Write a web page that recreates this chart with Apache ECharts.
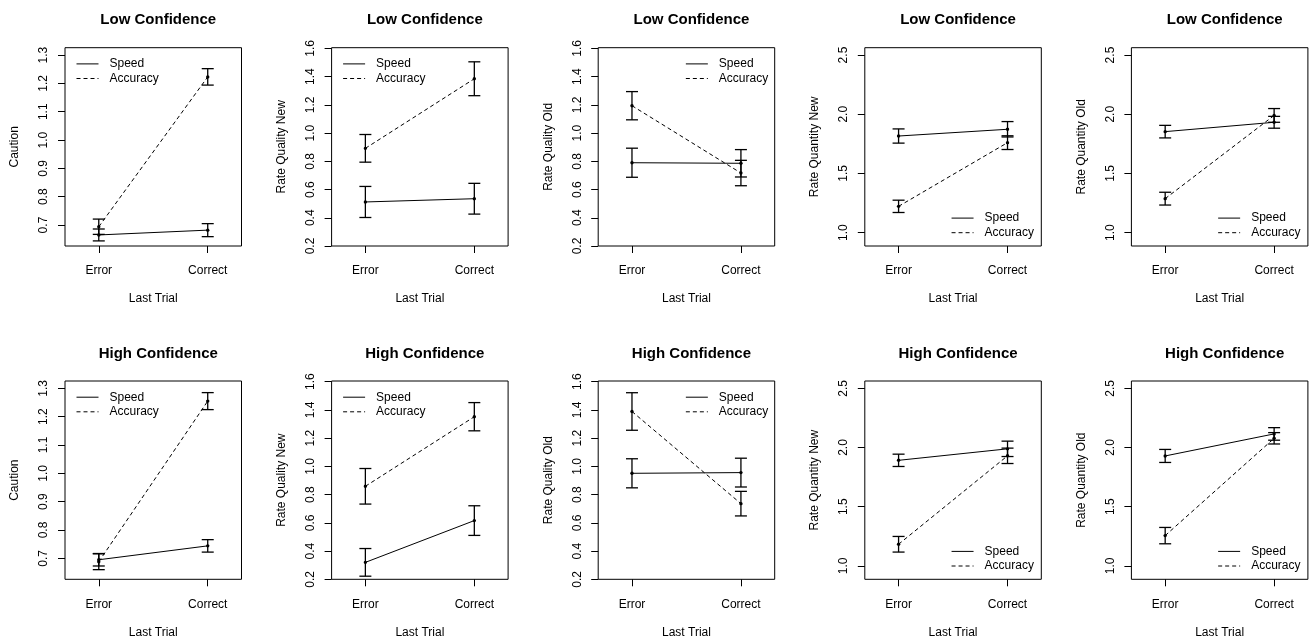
<!DOCTYPE html>
<html><head><meta charset="utf-8">
<script src="https://cdn.jsdelivr.net/npm/echarts@6/dist/echarts.min.js"></script>
<style>html,body{margin:0;padding:0;background:#fff}#c{width:1310px;height:641px}</style>
</head><body><div id="c"></div>
<script>
// ---------------- data ----------------
const categories = ['Error', 'Correct'];
const categoryX = [1, 2];
const seriesNames = ['Speed', 'Accuracy'];
const rowTitles = ['Low Confidence', 'High Confidence'];
const measures = ['Caution', 'Rate Quality New', 'Rate Quality Old', 'Rate Quantity New', 'Rate Quantity Old'];
const xTitle = 'Last Trial';

const cautionTicks = [0.7, 0.8, 0.9, 1.0, 1.1, 1.2, 1.3];
const qualityTicks = [0.2, 0.4, 0.6, 0.8, 1.0, 1.2, 1.4, 1.6];
const quantityTicks = [1.0, 1.5, 2.0, 2.5];

// means per measure: [Error, Correct]
const lowSpeedMean = [[0.665, 0.682], [0.512, 0.535], [0.790, 0.786], [1.816, 1.873], [1.853, 1.932]];
const lowSpeedSE   = [[0.021, 0.023], [0.110, 0.109], [0.103, 0.097], [0.060, 0.065], [0.053, 0.050]];
const lowAccMean   = [[0.694, 1.223], [0.892, 1.385], [1.194, 0.717], [1.222, 1.760], [1.287, 1.990]];
const lowAccSE     = [[0.027, 0.029], [0.098, 0.120], [0.100, 0.090], [0.052, 0.058], [0.054, 0.058]];

const highSpeedMean = [[0.695, 0.744], [0.320, 0.616], [0.951, 0.956], [1.892, 1.989], [1.929, 2.115]];
const highSpeedSE   = [[0.022, 0.022], [0.098, 0.105], [0.103, 0.102], [0.052, 0.065], [0.055, 0.053]];
const highAccMean   = [[0.688, 1.255], [0.859, 1.352], [1.389, 0.736], [1.183, 1.930], [1.256, 2.078]];
const highAccSE     = [[0.028, 0.030], [0.126, 0.100], [0.133, 0.087], [0.066, 0.065], [0.069, 0.048]];

// ---------------- layout / style ----------------
const FONT = '"Liberation Sans", Arial, Helvetica, sans-serif';
const tickSets = [cautionTicks, qualityTicks, qualityTicks, quantityTicks, quantityTicks];
const yMin = [0.626, 0.2, 0.2, 0.887, 0.887];
const yMax = [1.326, 1.605, 1.605, 2.562, 2.562];
const legendPos = ['tl', 'tl', 'tr', 'br', 'br'];
const boxLeft0 = 65, boxStep = 266.6, boxW = 176.5, boxH = 198.3;
const rowTop = [47.7, 381];

const rows = [
  {speedM: lowSpeedMean, speedS: lowSpeedSE, accM: lowAccMean, accS: lowAccSE},
  {speedM: highSpeedMean, speedS: highSpeedSE, accM: highAccMean, accS: highAccSE}
];

const grids = [], xAxes = [], yAxes = [], series = [], titles = [], legends = [];

function errRender(params, api) {
  const x = api.value(0), m = api.value(1), s = api.value(2);
  const pT = api.coord([x, m + s]), pB = api.coord([x, m - s]), pM = api.coord([x, m]);
  const cap = 6;
  const st = {stroke: '#000', lineWidth: 1.3, fill: null};
  return {type: 'group', children: [
    {type: 'line', shape: {x1: pT[0], y1: pT[1], x2: pB[0], y2: pB[1]}, style: st},
    {type: 'line', shape: {x1: pT[0] - cap, y1: pT[1], x2: pT[0] + cap, y2: pT[1]}, style: st},
    {type: 'line', shape: {x1: pB[0] - cap, y1: pB[1], x2: pB[0] + cap, y2: pB[1]}, style: st},
    {type: 'circle', shape: {cx: pM[0], cy: pM[1], r: 1.7}, style: {fill: '#000', stroke: null}}
  ]};
}

rows.forEach((row, r) => {
  measures.forEach((meas, c) => {
    const idx = r * 5 + c;
    const L = boxLeft0 + c * boxStep, T = rowTop[r];
    grids.push({left: L, top: T, width: boxW, height: boxH, show: true,
      borderColor: '#000', borderWidth: 1, backgroundColor: 'transparent', containLabel: false});
    xAxes.push({gridIndex: idx, type: 'value', min: 0.69, max: 2.31,
      axisLine: {show: false}, splitLine: {show: false},
      axisTick: {show: true, length: 7, inside: false, lineStyle: {color: '#000', width: 1}, customValues: categoryX},
      axisLabel: {customValues: categoryX, margin: 19, color: '#000', fontSize: 12, fontFamily: FONT,
        formatter: v => categories[categoryX.indexOf(v)]},
      name: xTitle, nameLocation: 'middle', nameGap: 47,
      nameTextStyle: {color: '#000', fontSize: 12, fontFamily: FONT}});
    const ticks = tickSets[c];
    yAxes.push({gridIndex: idx, type: 'value', min: yMin[c], max: yMax[c],
      axisLine: {show: false}, splitLine: {show: false},
      axisTick: {show: true, length: 7, inside: false, lineStyle: {color: '#000', width: 1}, customValues: ticks},
      axisLabel: {customValues: ticks, rotate: 90, margin: 15, color: '#000', fontSize: 12, fontFamily: FONT,
        formatter: v => Number(v).toFixed(1)},
      name: meas, nameLocation: 'middle', nameGap: 44,
      nameTextStyle: {color: '#000', fontSize: 12, fontFamily: FONT}});
    titles.push({text: rowTitles[r], left: L + boxW / 2, top: T - 40, textAlign: 'center',
      textStyle: {fontSize: 15, fontWeight: 'bold', color: '#000', fontFamily: FONT}});

    const sm = row.speedM[c], ss = row.speedS[c], am = row.accM[c], as = row.accS[c];
    series.push({type: 'line', name: seriesNames[0], xAxisIndex: idx, yAxisIndex: idx,
      data: categoryX.map((x, i) => [x, sm[i]]), symbol: 'none', silent: true, animation: false,
      itemStyle: {color: '#000'}, lineStyle: {color: '#000', width: 1, type: 'solid'}});
    series.push({type: 'line', name: seriesNames[1], xAxisIndex: idx, yAxisIndex: idx,
      data: categoryX.map((x, i) => [x, am[i]]), symbol: 'none', silent: true, animation: false,
      itemStyle: {color: '#000'}, lineStyle: {color: '#000', width: 1, type: [4, 3]}});
    const errData = [];
    categoryX.forEach((x, i) => { errData.push([x, sm[i], ss[i]]); errData.push([x, am[i], as[i]]); });
    series.push({type: 'custom', name: 'errbar' + idx, xAxisIndex: idx, yAxisIndex: idx,
      data: errData, encode: {x: 0, y: 1}, renderItem: errRender, silent: true, animation: false, clip: false});

    const lg = {data: seriesNames, orient: 'vertical', padding: 0, itemWidth: 22, itemHeight: 10, itemGap: 0.6,
      selectedMode: false, align: 'left',
      itemStyle: {opacity: 0, borderWidth: 0, color: 'transparent', borderColor: 'transparent'},
      lineStyle: {width: 1, color: '#000'},
      textStyle: {fontSize: 12, color: '#000', fontFamily: FONT, padding: [0, 0, 0, 6], lineHeight: 14}};
    const pos = legendPos[c];
    if (pos === 'tl') { lg.left = L + 11; lg.top = T + 9.2; }
    else if (pos === 'tr') { lg.right = 1310 - (L + boxW - 6.5); lg.top = T + 9.2; }
    else { lg.right = 1310 - (L + boxW - 7.4); lg.top = T + boxH - 14.3 - 7 - 13.6; }
    legends.push(lg);
  });
});

const chart = echarts.init(document.getElementById('c'), null, {renderer: 'canvas'});
chart.setOption({
  backgroundColor: '#fff',
  animation: false,
  title: titles,
  legend: legends,
  grid: grids,
  xAxis: xAxes,
  yAxis: yAxes,
  series: series
});
</script>
</body></html>
